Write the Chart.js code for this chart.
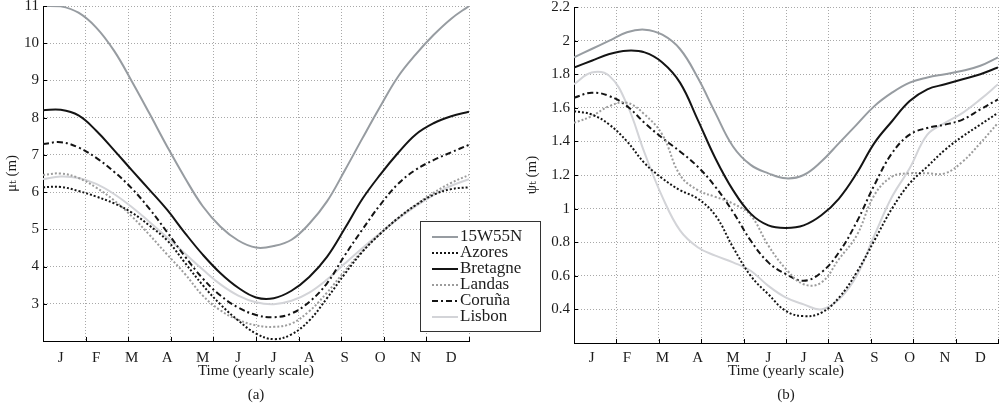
<!DOCTYPE html>
<html>
<head>
<meta charset="utf-8">
<script src="https://cdn.jsdelivr.net/npm/chart.js@4.4.1/dist/chart.umd.min.js"></script>
<style>
    html, body { margin: 0; padding: 0; background: #fff; }
    #wrap { position: relative; width: 999px; height: 410px; overflow: hidden; }
    #chartA { position: absolute; left: 0; top: 0; z-index: 2; }
    #chartB { position: absolute; left: 500px; top: 0; z-index: 1; }
</style>
</head>
<body>
<div id="wrap">
    <canvas id="chartB" width="499" height="410"></canvas>
    <canvas id="chartA" width="545" height="410"></canvas>
</div>
<script>
/* =========================
   DATA
========================= */

const sites = ["15W55N", "Azores", "Bretagne", "Landas", "Coruña", "Lisbon"];

// sample positions along the year, in months from the start of January
const months = [0, 0.5, 1, 1.5, 2, 2.5, 3, 3.5, 4, 4.5, 5, 5.5, 6,
                6.5, 7, 7.5, 8, 8.5, 9, 9.5, 10, 10.5, 11, 11.5, 12];

const monthLabels = ["J", "F", "M", "A", "M", "J", "J", "A", "S", "O", "N", "D"];
const monthCentres = [0.5, 1.5, 2.5, 3.5, 4.5, 5.5, 6.5, 7.5, 8.5, 9.5, 10.5, 11.5];
const gridTicks = [0, 1.2, 2.4, 3.6, 4.8, 6, 7.2, 8.4, 9.6, 10.8, 12];

const muTicks = [2, 3, 4, 5, 6, 7, 8, 9, 10, 11];
const muTickLabels = ["", "3", "4", "5", "6", "7", "8", "9", "10", "11"];
const psiTicks = [0.2, 0.4, 0.6, 0.8, 1.0, 1.2, 1.4, 1.6, 1.8, 2.0, 2.2];
const psiTickLabels = ["", "0.4", "0.6", "0.8", "1", "1.2", "1.4", "1.6", "1.8", "2", "2.2"];

// (a) mean  mu_t (m)
const mu15W55N  = [11.0, 10.99, 10.82, 10.42, 9.80, 8.98, 8.11, 7.22, 6.38, 5.62, 5.07, 4.70, 4.51,
                   4.55, 4.72, 5.15, 5.75, 6.58, 7.45, 8.30, 9.10, 9.70, 10.22, 10.66, 11.0];
const muAzores  = [6.13, 6.14, 6.03, 5.88, 5.70, 5.45, 5.10, 4.70, 4.10, 3.50, 2.98, 2.55, 2.20,
                   2.05, 2.18, 2.55, 3.15, 3.80, 4.40, 4.88, 5.30, 5.65, 5.93, 6.08, 6.13];
const muBretagne = [8.20, 8.21, 8.06, 7.65, 7.13, 6.59, 6.06, 5.52, 4.90, 4.32, 3.82, 3.43, 3.17,
                    3.15, 3.35, 3.72, 4.26, 5.02, 5.82, 6.47, 7.05, 7.55, 7.85, 8.04, 8.16];
const muLandas  = [6.46, 6.50, 6.38, 6.12, 5.78, 5.35, 4.85, 4.32, 3.80, 3.22, 2.82, 2.57, 2.42,
                   2.38, 2.47, 2.80, 3.30, 3.88, 4.42, 4.88, 5.30, 5.66, 5.98, 6.25, 6.46];
const muCoruna  = [7.29, 7.34, 7.20, 6.92, 6.55, 6.10, 5.55, 4.92, 4.27, 3.68, 3.22, 2.90, 2.70,
                   2.64, 2.74, 3.05, 3.55, 4.30, 5.00, 5.66, 6.22, 6.60, 6.86, 7.07, 7.27];
const muLisbon  = [6.35, 6.42, 6.38, 6.22, 5.95, 5.60, 5.20, 4.78, 4.35, 3.92, 3.52, 3.22, 3.04,
                   2.99, 3.08, 3.30, 3.65, 4.08, 4.50, 4.90, 5.28, 5.62, 5.92, 6.17, 6.35];

// (b) spread  psi_t (m)
const psi15W55N  = [1.90, 1.95, 2.00, 2.05, 2.065, 2.035, 1.95, 1.78, 1.57, 1.37, 1.26, 1.21, 1.18,
                    1.20, 1.28, 1.39, 1.50, 1.61, 1.69, 1.75, 1.78, 1.80, 1.82, 1.85, 1.90];
const psiAzores  = [1.58, 1.56, 1.50, 1.40, 1.27, 1.18, 1.11, 1.06, 0.96, 0.77, 0.60, 0.49, 0.39,
                    0.36, 0.38, 0.47, 0.62, 0.81, 1.00, 1.15, 1.25, 1.35, 1.43, 1.50, 1.57];
const psiBretagne = [1.84, 1.88, 1.92, 1.94, 1.93, 1.87, 1.75, 1.53, 1.30, 1.11, 0.97, 0.90, 0.885,
                     0.90, 0.96, 1.06, 1.21, 1.39, 1.52, 1.64, 1.71, 1.74, 1.77, 1.80, 1.84];
const psiLandas  = [1.51, 1.55, 1.61, 1.63, 1.56, 1.44, 1.20, 1.11, 1.07, 1.03, 0.96, 0.78, 0.64,
                    0.55, 0.56, 0.70, 0.84, 1.08, 1.19, 1.21, 1.21, 1.21, 1.28, 1.39, 1.51];
const psiCoruna  = [1.66, 1.69, 1.67, 1.61, 1.51, 1.42, 1.34, 1.25, 1.13, 0.98, 0.81, 0.68, 0.61,
                    0.57, 0.62, 0.74, 0.92, 1.14, 1.33, 1.44, 1.48, 1.50, 1.53, 1.59, 1.65];
const psiLisbon  = [1.74, 1.81, 1.79, 1.62, 1.33, 1.07, 0.87, 0.77, 0.72, 0.68, 0.63, 0.54, 0.47,
                    0.43, 0.40, 0.46, 0.60, 0.84, 1.07, 1.24, 1.44, 1.51, 1.57, 1.65, 1.74];

/* =========================
   STYLE
========================= */

const FONT = "'Liberation Serif', 'DejaVu Serif', serif";
const TEXT = "#1c1c1c";
const GRID = "#a8a8a8";

const siteStyles = [
    { color: "#979ca1", width: 2, dash: [] },
    { color: "#141414", width: 2, dash: [2, 2] },
    { color: "#141414", width: 2, dash: [] },
    { color: "#9c9c9c", width: 2, dash: [2, 2] },
    { color: "#141414", width: 2, dash: [6, 3, 2, 3] },
    { color: "#d3d4d8", width: 2, dash: [] }
];

Chart.defaults.font.family = FONT;
Chart.defaults.color = TEXT;

/* =========================
   PLUGINS
========================= */

// MATLAB style: short tick marks pointing into the axes
const innerTicks = {
    id: "innerTicks",
    afterDatasetsDraw(chart) {
        const { ctx, chartArea: a, scales } = chart;
        ctx.save();
        ctx.strokeStyle = "#000";
        ctx.lineWidth = 1;
        ctx.beginPath();
        scales.x.ticks.forEach(t => {
            const px = Math.round(scales.x.getPixelForValue(t.value)) + 0.5;
            ctx.moveTo(px, a.bottom);
            ctx.lineTo(px, a.bottom - 4);
        });
        scales.y.ticks.forEach(t => {
            const py = Math.round(scales.y.getPixelForValue(t.value)) + 0.5;
            ctx.moveTo(a.left, py);
            ctx.lineTo(a.left + 4, py);
        });
        ctx.stroke();
        ctx.restore();
    }
};

// boxed legend that sits over the lower right corner of chart (a)
const boxLegend = {
    id: "boxLegend",
    afterDraw(chart, args, opts) {
        if (!opts.show) return;
        const ctx = chart.ctx;
        ctx.save();
        ctx.fillStyle = "#fff";
        ctx.fillRect(opts.x, opts.y, opts.w, opts.h);
        ctx.strokeStyle = "#333";
        ctx.lineWidth = 1;
        ctx.strokeRect(opts.x + 0.5, opts.y + 0.5, opts.w, opts.h);

        chart.data.datasets.forEach((ds, i) => {
            const cy = opts.y + opts.first + i * opts.row;
            ctx.strokeStyle = ds.borderColor;
            ctx.lineWidth = ds.borderWidth;
            ctx.setLineDash(ds.borderDash);
            ctx.beginPath();
            ctx.moveTo(opts.x + opts.lineFrom, cy);
            ctx.lineTo(opts.x + opts.lineTo, cy);
            ctx.stroke();
            ctx.setLineDash([]);

            ctx.fillStyle = TEXT;
            ctx.font = opts.font;
            ctx.textBaseline = "middle";
            ctx.fillText(ds.label, opts.x + opts.textAt, cy);
        });
        ctx.restore();
    }
};

/* =========================
   BUILDERS
========================= */

function makeDatasets(series) {
    return series.map((values, i) => ({
        label: sites[i],
        data: values.map((v, j) => ({ x: months[j], y: v })),
        borderColor: siteStyles[i].color,
        borderWidth: siteStyles[i].width,
        borderDash: siteStyles[i].dash,
        pointRadius: 0,
        tension: 0.4,
        fill: false
    }));
}

function makeScales(cfg) {
    return {
        x: {
            type: "linear",
            position: "bottom",
            weight: 0,
            min: 0,
            max: 12,
            afterBuildTicks: s => { s.ticks = gridTicks.map(v => ({ value: v })); },
            ticks: { display: false },
            grid: { color: GRID, lineWidth: 1, drawTicks: false },
            border: { color: "#000", width: 1, dash: [1, 2] }
        },
        xMonths: {
            type: "linear",
            position: "bottom",
            weight: 1,
            min: 0,
            max: 12,
            afterBuildTicks: s => { s.ticks = monthCentres.map(v => ({ value: v })); },
            afterFit: s => {
                s.height = cfg.bottomHeight;
                s.paddingLeft = 0;
                s.paddingRight = 0;
            },
            ticks: {
                autoSkip: false,
                maxRotation: 0,
                padding: cfg.monthPad,
                font: { size: 15 },
                callback: (v, i) => monthLabels[i]
            },
            grid: { display: false, drawTicks: false },
            border: { display: false },
            title: {
                display: true,
                text: ["Time (yearly scale)", cfg.caption],
                font: { size: 15, lineHeight: 1.6 },
                padding: { top: 0, bottom: 3 }
            }
        },
        y: {
            type: "linear",
            min: cfg.yTicks[0],
            max: cfg.yTicks[cfg.yTicks.length - 1],
            afterBuildTicks: s => { s.ticks = cfg.yTicks.map(v => ({ value: v })); },
            afterFit: s => {
                s.width = cfg.yWidth;
                s.paddingTop = 0;
                s.paddingBottom = 0;
            },
            ticks: {
                padding: 4,
                font: { size: 15 },
                callback: (v, i) => cfg.yLabels[i]
            },
            grid: { color: GRID, lineWidth: 1, drawTicks: false },
            border: { color: "#000", width: 1, dash: [1, 2] },
            title: {
                display: true,
                text: cfg.yTitle,
                font: { size: 15, lineHeight: 1.2 },
                padding: { top: 3, bottom: 0 }
            }
        }
    };
}

/* =========================
   CHART (a)
========================= */

new Chart(document.getElementById("chartA"), {
    type: "line",
    data: {
        datasets: makeDatasets([mu15W55N, muAzores, muBretagne, muLandas, muCoruna, muLisbon])
    },
    options: {
        responsive: false,
        animation: false,
        layout: { padding: { left: 0, right: 76, top: 6, bottom: 0 } },
        scales: makeScales({
            yTicks: muTicks,
            yLabels: muTickLabels,
            yTitle: "μₜ (m)",
            yWidth: 43,
            bottomHeight: 69,
            monthPad: 8,
            caption: "(a)"
        }),
        plugins: {
            legend: { display: false },
            tooltip: { enabled: false },
            boxLegend: {
                show: true,
                x: 420, y: 221, w: 120, h: 110,
                first: 16, row: 16,
                lineFrom: 12, lineTo: 38, textAt: 40,
                font: "17px " + FONT
            }
        }
    },
    plugins: [innerTicks, boxLegend]
});

/* =========================
   CHART (b)
========================= */

new Chart(document.getElementById("chartB"), {
    type: "line",
    data: {
        datasets: makeDatasets([psi15W55N, psiAzores, psiBretagne, psiLandas, psiCoruna, psiLisbon])
    },
    options: {
        responsive: false,
        animation: false,
        layout: { padding: { left: 20, right: 1, top: 7, bottom: 0 } },
        scales: makeScales({
            yTicks: psiTicks,
            yLabels: psiTickLabels,
            yTitle: "ψₜ (m)",
            yWidth: 54,
            bottomHeight: 67,
            monthPad: 6,
            caption: "(b)"
        }),
        plugins: {
            legend: { display: false },
            tooltip: { enabled: false },
            boxLegend: { show: false }
        }
    },
    plugins: [innerTicks, boxLegend]
});
</script>
</body>
</html>
